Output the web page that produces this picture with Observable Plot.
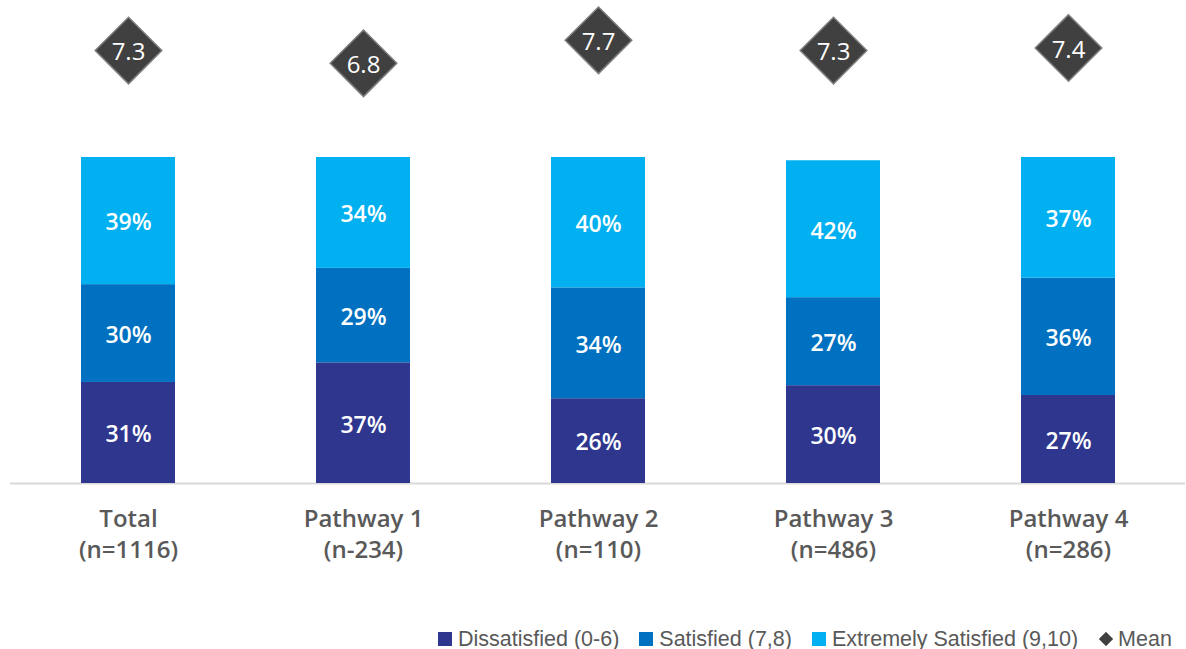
<!DOCTYPE html>
<html>
<head>
<meta charset="utf-8">
<script src="https://cdn.jsdelivr.net/npm/d3@7"></script>
<script src="https://cdn.jsdelivr.net/npm/@observablehq/plot@0.6"></script>
<style>
  html, body { margin: 0; padding: 0; background: #ffffff; }
  #wrap { position: relative; width: 1186px; height: 649px; overflow: hidden; background: #fff; }
  #wrap > svg { position: absolute; left: 0; top: 0; }
  #legend { position: absolute; left: 438px; top: 626px; height: 26px; display: flex; align-items: center;
    font-family: "Liberation Sans", Arial, sans-serif; font-size: 21.5px; color: #595959; white-space: nowrap; }
  .item { display: flex; align-items: center; margin-right: 20px; }
  .item:last-child { margin-right: 0; }
  .sw { width: 14px; height: 14px; margin-right: 6px; }
</style>
</head>
<body>
<div id="wrap"></div>
<script>
// ---- data ----
const groups = ["Total", "Pathway 1", "Pathway 2", "Pathway 3", "Pathway 4"];
const sampleSizes = ["(n=1116)", "(n-234)", "(n=110)", "(n=486)", "(n=286)"];
const seriesNames = ["Dissatisfied (0-6)", "Satisfied (7,8)", "Extremely Satisfied (9,10)"];
const dissatisfied = [31, 37, 26, 30, 27];
const satisfied = [30, 29, 34, 27, 36];
const extremelySatisfied = [39, 34, 40, 42, 37];
const means = [7.3, 6.8, 7.7, 7.3, 7.4];
const seriesColors = ["#2E368E", "#0070C0", "#00B0F0"];
const meanLabel = "Mean";

// ---- tables ----
const seriesValues = [dissatisfied, satisfied, extremelySatisfied];
const rows = [];
seriesNames.forEach((s, si) => groups.forEach((g, gi) => rows.push({group: g, series: s, value: seriesValues[si][gi]})));
const meanRows = groups.map((g, i) => ({group: g, mean: means[i]}));
const nByGroup = new Map(groups.map((g, i) => [g, sampleSizes[i]]));

const wrap = document.getElementById("wrap");
const font = '"Open Sans", "Noto Sans", sans-serif';
const xScale = {domain: groups, paddingInner: 0.6, paddingOuter: 0.3, label: null};

const mainPlot = Plot.plot({
  width: 1186, height: 600,
  marginLeft: 10, marginRight: 1, marginTop: 0, marginBottom: 117,
  style: {background: "transparent", fontFamily: font},
  x: xScale,
  y: {domain: [0, 100], range: [483, 157], axis: null},
  color: {domain: seriesNames, range: seriesColors},
  marks: [
    Plot.ruleY([0], {stroke: "#d9d9d9", strokeWidth: 2}),
    Plot.barY(rows, {x: "group", y: "value", fill: "series", z: "series"}),
    Plot.text(rows, Plot.stackY({x: "group", y: "value", z: "series", text: d => d.value + "%",
      fill: "white", fontSize: 23, fontWeight: 600, dy: 2})),
    Plot.axisX({tickSize: 0, tickPadding: 21, label: null, tickFormat: g => g + "\n" + nByGroup.get(g),
      fontSize: 24, lineHeight: 1.3, fill: "#595959", fontWeight: 600})
  ]
});
wrap.appendChild(mainPlot);

const meanPlot = Plot.plot({
  width: 1186, height: 110,
  marginLeft: 10, marginRight: 1, marginTop: 0, marginBottom: 0,
  style: {background: "transparent", fontFamily: font, overflow: "visible"},
  x: {...xScale, axis: null},
  y: {domain: [6, 8], range: [83.3, 32.1], axis: null},
  marks: [
    Plot.dot(meanRows, {x: "group", y: "mean", symbol: "diamond2", r: 30, fill: "#404040", stroke: "#7f7f7f", strokeWidth: 1.5}),
    Plot.text(meanRows, {x: "group", y: "mean", text: d => d.mean.toFixed(1), fill: "white", fontSize: 24, dy: 2})
  ]
});
wrap.appendChild(meanPlot);

// ---- legend ----
const legend = document.createElement("div");
legend.id = "legend";
seriesNames.forEach((s, i) => {
  const it = document.createElement("div");
  it.className = "item";
  const sw = document.createElement("span");
  sw.className = "sw";
  sw.style.background = seriesColors[i];
  const t = document.createElement("span");
  t.textContent = s;
  it.append(sw, t);
  legend.appendChild(it);
});
const mi = document.createElement("div");
mi.className = "item";
mi.innerHTML = '<svg width="16" height="16" viewBox="0 0 16 16" style="margin-right:4px"><path d="M8 1 L15 8 L8 15 L1 8 Z" fill="#404040" stroke="#7f7f7f" stroke-width="1"/></svg>';
const mt = document.createElement("span");
mt.textContent = meanLabel;
mi.appendChild(mt);
legend.appendChild(mi);
wrap.appendChild(legend);
</script>
</body>
</html>
